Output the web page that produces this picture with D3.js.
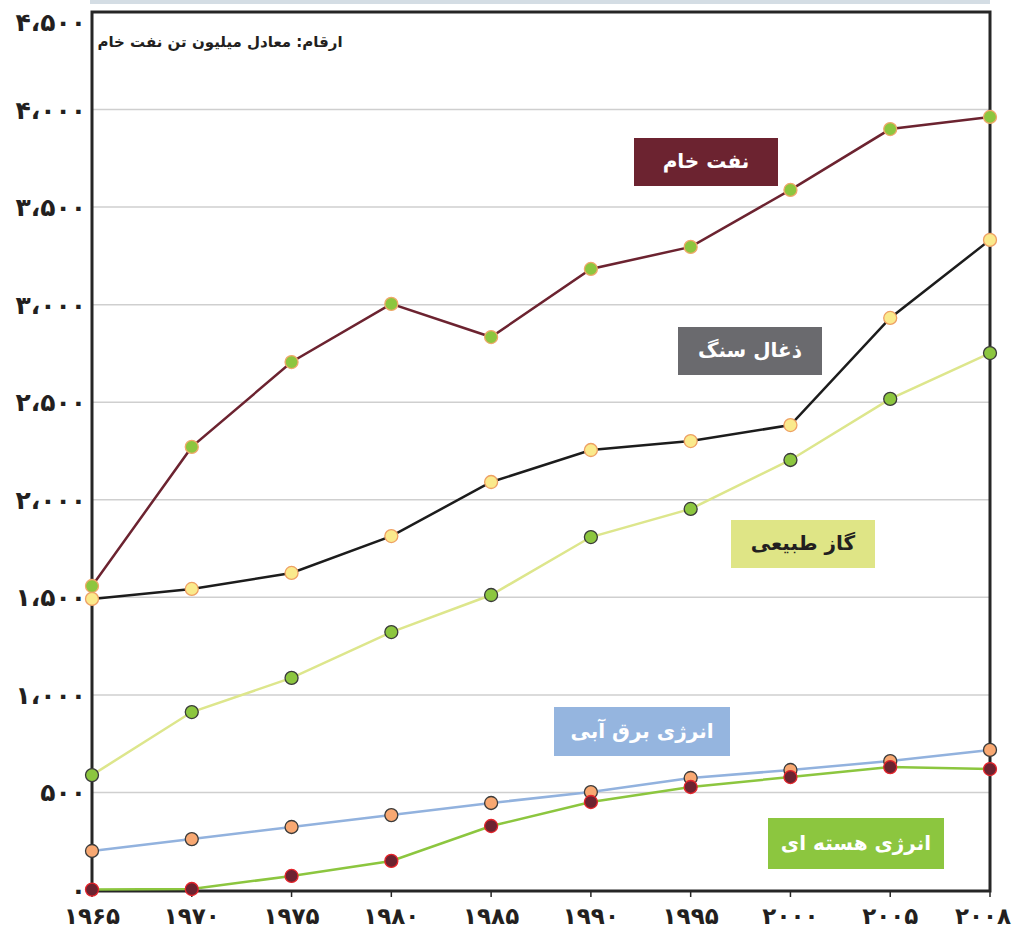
<!DOCTYPE html>
<html><head><meta charset="utf-8">
<script src="https://cdn.jsdelivr.net/npm/d3@7"></script>
<style>html,body{margin:0;padding:0;background:#fff;}svg{display:block;}</style>
</head><body>
<svg id="chart" width="1015" height="933"></svg>
<script>
const years = ["1965","1970","1975","1980","1985","1990","1995","2000","2005","2008"];
const xTickLabels = ["۱۹۶۵","۱۹۷۰","۱۹۷۵","۱۹۸۰","۱۹۸۵","۱۹۹۰","۱۹۹۵","۲۰۰۰","۲۰۰۵","۲۰۰۸"];
const oil     = [1558, 2271, 2706, 3004, 2834, 3183, 3296, 3588, 3900, 3962];
const coal    = [1492, 1543, 1625, 1814, 2091, 2255, 2301, 2383, 2932, 3332];
const gas     = [589, 912, 1087, 1322, 1512, 1809, 1953, 2204, 2517, 2752];
const hydro   = [200, 261, 323, 384, 446, 502, 574, 615, 661, 718];
const nuclear = [2, 5, 72, 149, 328, 451, 528, 579, 630, 620];
const yTicks = [0, 500, 1000, 1500, 2000, 2500, 3000, 3500, 4000, 4500];
const yTickLabels = ["۰","۵۰۰","۱،۰۰۰","۱،۵۰۰","۲،۰۰۰","۲،۵۰۰","۳،۰۰۰","۳،۵۰۰","۴،۰۰۰","۴،۵۰۰"];
const seriesNames = ["نفت خام","ذغال سنگ","گاز طبیعی","انرژی برق آبی","انرژی هسته ای"];
const unitNote = "ارقام: معادل میلیون تن نفت خام";

const svg = d3.select("#chart");
const FONT = "'DejaVu Sans', sans-serif";
const L = 92, R = 990, T = 12, B = 890;
const x = d3.scalePoint().domain(years).range([L, R]);
const y = d3.scaleLinear().domain([0, 4500]).range([B, T]);

// top band
svg.append("rect").attr("x", 90).attr("y", 0).attr("width", 900).attr("height", 4).attr("fill", "#d4dde4");

// grid
svg.append("g").selectAll("line").data(yTicks.filter(d => d > 0 && d < 4500)).join("line")
  .attr("x1", L).attr("x2", R).attr("y1", d => y(d)).attr("y2", d => y(d))
  .attr("stroke", "#cfcfcf").attr("stroke-width", 1.5);

// frame
svg.append("rect").attr("x", L).attr("y", T).attr("width", R - L).attr("height", B + 1 - T)
  .attr("fill", "none").attr("stroke", "#262626").attr("stroke-width", 3);

// bottom ticks
svg.append("g").selectAll("line").data(years).join("line")
  .attr("x1", d => x(d)).attr("x2", d => x(d)).attr("y1", B + 1).attr("y2", B + 7)
  .attr("stroke", "#262626").attr("stroke-width", 1.5);

// y labels
svg.append("g").selectAll("text").data(yTicks).join("text")
  .attr("x", 86).attr("y", d => Math.max(y(d), 22)).attr("dy", "0.36em")
  .attr("text-anchor", "end").attr("font-family", FONT).attr("font-weight", "bold")
  .attr("font-size", 25).attr("fill", "#231f20")
  .text((d, i) => yTickLabels[i]);

// x labels
svg.append("g").selectAll("text").data(years).join("text")
  .attr("x", d => Math.min(x(d), 983)).attr("y", 924)
  .attr("text-anchor", "middle").attr("font-family", FONT).attr("font-weight", "bold")
  .attr("font-size", 23).attr("fill", "#231f20")
  .text((d, i) => xTickLabels[i]);

// note
svg.append("text").attr("x", 220).attr("y", 47).attr("text-anchor", "middle")
  .attr("direction", "rtl")
  .attr("font-family", FONT).attr("font-weight", "bold").attr("font-size", 15).attr("fill", "#231f20")
  .text(unitNote);

const series = [
  {vals: oil, line: "#6c2330", fill: "#8cc63f", stroke: "#f0a86a"},
  {vals: coal, line: "#1c1c1c", fill: "#faea8c", stroke: "#eea064"},
  {vals: gas, line: "#dde68c", fill: "#8cc63f", stroke: "#3a3a3a"},
  {vals: hydro, line: "#92b2de", fill: "#f8a872", stroke: "#3a3a3a"},
  {vals: nuclear, line: "#8cc63f", fill: "#6c2330", stroke: "#e5242b"}
];
const line = d3.line().x((d, i) => x(years[i])).y(d => y(d));
[2, 3, 4, 1, 0].forEach(k => {
  const s = series[k];
  svg.append("path").attr("d", line(s.vals)).attr("fill", "none")
    .attr("stroke", s.line).attr("stroke-width", 2.5);
});
[2, 3, 4, 1, 0].forEach(k => {
  const s = series[k];
  svg.append("g").selectAll("circle").data(s.vals).join("circle")
    .attr("cx", (d, i) => x(years[i])).attr("cy", d => y(d)).attr("r", 6.5)
    .attr("fill", s.fill).attr("stroke", s.stroke).attr("stroke-width", 1.3);
});

// legend boxes
const boxes = [
  {x: 634, y: 138, w: 144, h: 48, fill: "#6c2330", color: "#fff"},
  {x: 678, y: 327, w: 144, h: 48, fill: "#6a6a6e", color: "#fff"},
  {x: 731, y: 520, w: 144, h: 48, fill: "#dfe586", color: "#231f20"},
  {x: 554, y: 707, w: 176, h: 49, fill: "#95b5df", color: "#fff"},
  {x: 768, y: 818, w: 176, h: 51, fill: "#8cc63f", color: "#fff"}
];
boxes.forEach((b, i) => {
  svg.append("rect").attr("x", b.x).attr("y", b.y).attr("width", b.w).attr("height", b.h).attr("fill", b.fill);
  svg.append("text").attr("x", b.x + b.w / 2).attr("y", b.y + b.h / 2).attr("dy", "0.3em")
    .attr("text-anchor", "middle").attr("direction", "rtl")
    .attr("font-family", FONT).attr("font-weight", "bold").attr("font-size", 20).attr("fill", b.color)
    .text(seriesNames[i]);
});
</script>
</body></html>
